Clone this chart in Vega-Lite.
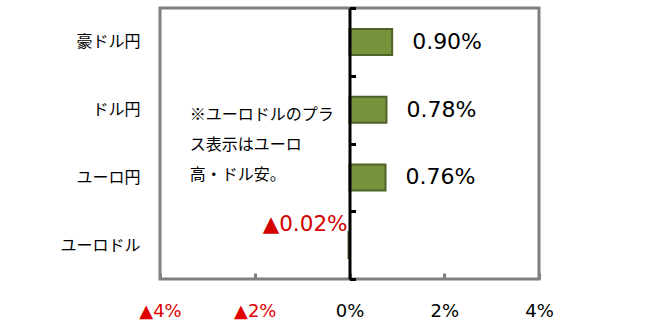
{
  "$schema": "https://vega.github.io/schema/vega-lite/v6.json",
  "width": 379,
  "height": 271,
  "autosize": {"type": "none"},
  "padding": {"left": 160, "top": 8, "right": 118, "bottom": 47},
  "background": "white",
  "config": {
    "view": {"stroke": "#808080", "strokeWidth": 3},
    "axis": {"grid": false}
  },
  "data": {
    "values": [
      {"cat": "豪ドル円", "v": 0.90, "label": "0.90%"},
      {"cat": "ドル円", "v": 0.78, "label": "0.78%"},
      {"cat": "ユーロ円", "v": 0.76, "label": "0.76%"},
      {"cat": "ユーロドル", "v": -0.02, "label": "▲0.02%"}
    ]
  },
  "encoding": {
    "y": {
      "field": "cat",
      "type": "nominal",
      "sort": ["豪ドル円", "ドル円", "ユーロ円", "ユーロドル"],
      "scale": {"paddingInner": 0, "paddingOuter": 0},
      "title": null,
      "axis": {
        "orient": "left",
        "offset": -189.5,
        "zindex": 1,
        "domainColor": "black",
        "domainWidth": 3,
        "ticks": true,
        "tickBand": "extent",
        "tickSize": -6,
        "tickWidth": 3,
        "tickColor": "black",
        "labelPadding": 215.5,
        "labelFont": "Noto Sans CJK JP",
        "labelFontSize": 16,
        "labelColor": "black"
      }
    }
  },
  "layer": [
    {
      "mark": {"type": "bar", "size": 26, "fill": "#77933C", "stroke": "#4F6228", "strokeWidth": 2},
      "encoding": {
        "x": {
          "field": "v",
          "type": "quantitative",
          "scale": {"domain": [-4, 4], "nice": false, "zero": false},
          "title": null,
          "axis": {
            "values": [-4, -2, 0, 2, 4],
            "domain": false,
            "ticks": true,
            "tickSize": -6,
            "tickWidth": 3,
            "tickColor": "#808080",
            "labelPadding": 29,
            "labelFlush": false,
            "labelOverlap": false,
            "labelFont": "DejaVu Sans",
            "labelFontSize": 18,
            "labelExpr": "datum.value < 0 ? '▲' + abs(datum.value) + '%' : datum.value + '%'",
            "labelColor": {"condition": {"test": "datum.value < 0", "value": "#E00000"}, "value": "black"}
          }
        }
      }
    },
    {
      "transform": [{"filter": "datum.v > 0"}],
      "mark": {"type": "text", "align": "left", "baseline": "middle", "dx": 20, "font": "DejaVu Sans", "fontSize": 22, "color": "black"},
      "encoding": {
        "x": {"field": "v", "type": "quantitative"},
        "text": {"field": "label"}
      }
    },
    {
      "transform": [{"filter": "datum.v < 0"}],
      "mark": {"type": "text", "align": "right", "baseline": "middle", "dx": -2, "dy": -20, "font": "DejaVu Sans", "fontSize": 21.5, "color": "#D40000"},
      "encoding": {
        "x": {"datum": 0, "type": "quantitative"},
        "text": {"field": "label"}
      }
    },
    {
      "data": {"values": [{"note": ["※ユーロドルのプラ", "ス表示はユーロ", "高・ドル安。"]}]},
      "mark": {"type": "text", "align": "left", "baseline": "middle", "dy": 5, "lineHeight": 30, "font": "Noto Sans CJK JP", "fontSize": 16, "color": "black"},
      "encoding": {
        "x": {"datum": -3.37, "type": "quantitative"},
        "y": {"datum": "ドル円", "type": "nominal"},
        "text": {"field": "note"}
      }
    }
  ]
}
